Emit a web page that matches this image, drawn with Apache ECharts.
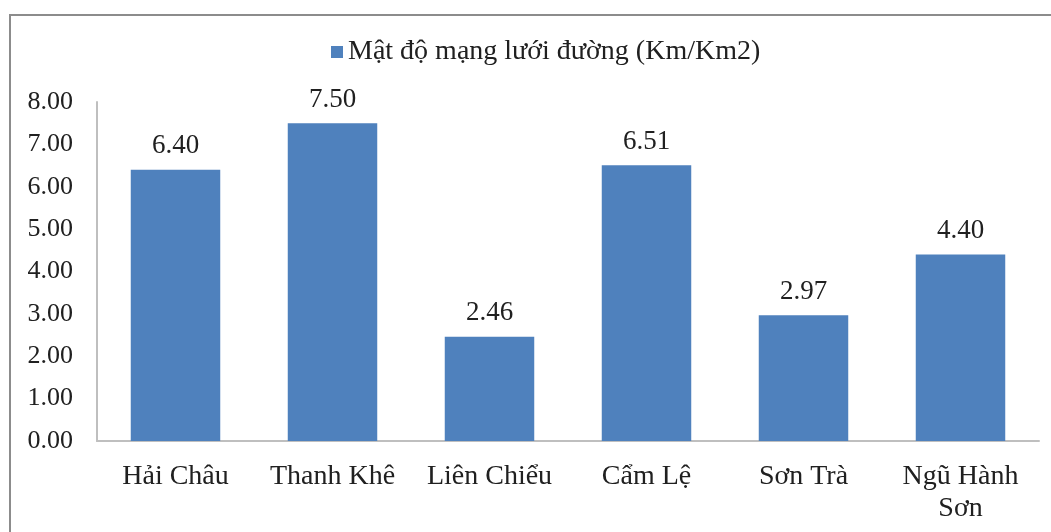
<!DOCTYPE html>
<html>
<head>
<meta charset="utf-8">
<script src="https://cdn.jsdelivr.net/npm/echarts@6/dist/echarts.min.js"></script>
<style>
  html, body { margin: 0; padding: 0; background: #fff; }
  #chart { width: 1051px; height: 532px; }
</style>
</head>
<body>
<div id="chart"></div>
<script>
// Road network density by district (km of road per km²)
const districts = ['Hải Châu', 'Thanh Khê', 'Liên Chiểu', 'Cẩm Lệ', 'Sơn Trà', 'Ngũ Hành\nSơn'];
const density = [6.40, 7.50, 2.46, 6.51, 2.97, 4.40];
const seriesName = 'Mật độ mạng lưới đường (Km/Km2)';
const yTicks = { min: 0, max: 8, interval: 1 };

const FONT = '"Liberation Serif", "Times New Roman", serif';
const TEXT = '#202020';

const chart = echarts.init(document.getElementById('chart'));
chart.setOption({
  animation: false,
  textStyle: { fontFamily: FONT },
  graphic: [{
    type: 'rect',
    shape: { x: 10, y: 15, width: 1100, height: 600 },
    style: { fill: 'none', stroke: '#8c8c8c', lineWidth: 2 },
    silent: true
  }],
  legend: {
    top: 33,
    left: 326,
    itemWidth: 12,
    itemHeight: 12,
    itemGap: 8,
    icon: 'rect',
    textStyle: { fontFamily: FONT, fontSize: 28, color: TEXT },
    data: [seriesName]
  },
  grid: { left: 97, right: 12, top: 102, bottom: 91, containLabel: false },
  xAxis: {
    type: 'category',
    data: districts,
    axisLine: { lineStyle: { color: '#bfbfbf', width: 2 } },
    axisTick: { show: false },
    axisLabel: {
      fontFamily: FONT, fontSize: 28, color: TEXT,
      margin: 20, lineHeight: 32, interval: 0
    }
  },
  yAxis: {
    type: 'value',
    min: yTicks.min, max: yTicks.max, interval: yTicks.interval,
    axisLine: { show: true, lineStyle: { color: '#bfbfbf', width: 2 } },
    axisTick: { show: false },
    splitLine: { show: false },
    axisLabel: {
      fontFamily: FONT, fontSize: 26, color: TEXT, margin: 24,
      formatter: v => v.toFixed(2)
    }
  },
  series: [{
    name: seriesName,
    type: 'bar',
    data: density,
    barWidth: '57%',
    itemStyle: { color: '#4f81bd' },
    label: {
      show: true,
      position: 'top',
      distance: 10,
      fontFamily: FONT, fontSize: 27, color: TEXT,
      formatter: p => p.value.toFixed(2)
    }
  }]
});
</script>
</body>
</html>
